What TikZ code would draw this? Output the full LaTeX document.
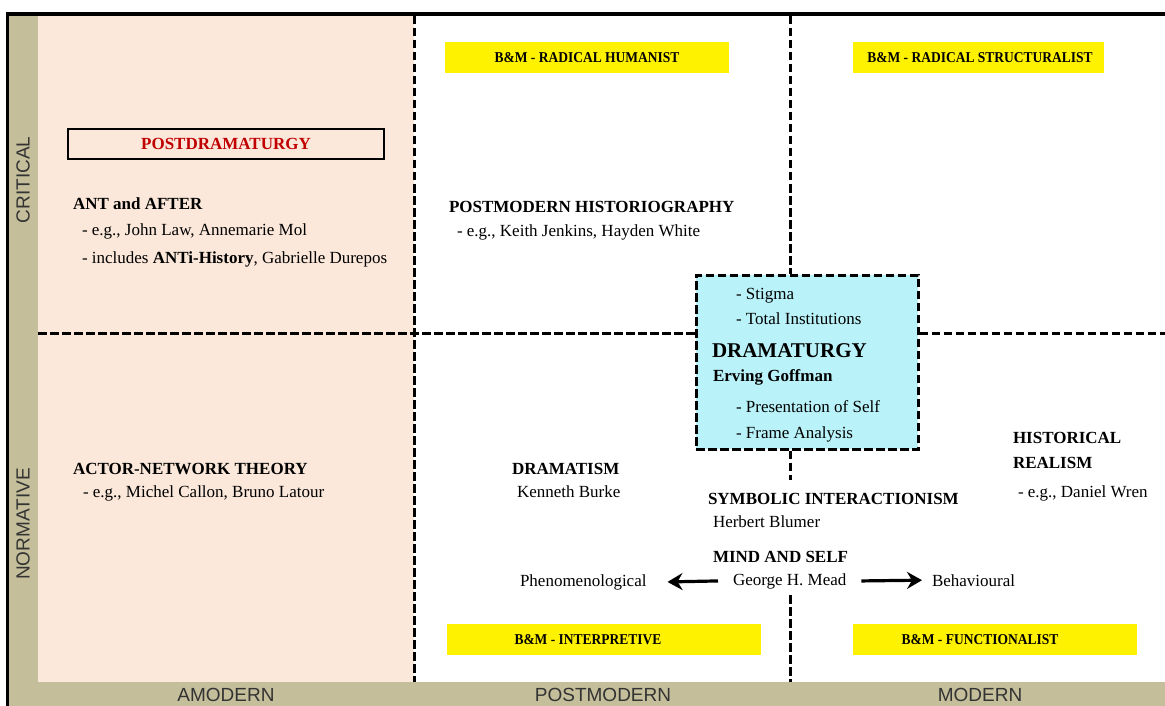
\documentclass[tikz,border=0pt]{standalone}
\usepackage{fontspec}
\setmainfont{Liberation Serif}
\newfontfamily\axisfont{Liberation Sans}
\newfontfamily\tagfont[FakeStretch=0.9]{Liberation Serif}
\usetikzlibrary{arrows.meta}
\definecolor{bandtan}{HTML}{C4BE9A}
\definecolor{peach}{HTML}{FBE8DA}
\definecolor{cyanbox}{HTML}{B9F3F9}
\definecolor{redtxt}{HTML}{C00000}
\begin{document}
\begin{tikzpicture}[x=1pt,y=-1pt,
  txt/.style={anchor=base west,inner sep=0pt,outer sep=0pt,font=\fontsize{17}{20}\selectfont},
  head/.style={txt,font=\fontsize{17}{20}\selectfont\bfseries},
  quad/.style={line width=3pt,dash pattern=on 8.5pt off 3.5pt},
  tagbox/.style={fill=yellow,draw=none},
  tagtxt/.style={inner sep=0pt,font=\tagfont\fontsize{15}{18}\selectfont\bfseries},
  axis/.style={inner sep=0pt,font=\axisfont\fontsize{19}{22}\selectfont,text=black!80},
  arr/.style={line width=3.2pt,-{Stealth[length=15pt,width=17pt,inset=5pt]}}]
\useasboundingbox (0,0) rectangle (1165,706);
% background areas
\fill[white] (0,0) rectangle (1165,706);
\fill[bandtan] (9,16) rectangle (38,706);
\fill[bandtan] (9,682) rectangle (1165,706);
\fill[peach] (38,16) rectangle (414,682);
% Goffman box
\node[draw,quad,fill=cyanbox,minimum width=222pt,minimum height=174pt,inner sep=0pt] (gbox) at (807,362) {};
% quadrant dividers
\coordinate (vAtop) at (414,16);
\coordinate (vAbot) at (414,682);
\coordinate (vBtop) at (790,16);
\coordinate (vBmid) at (790,480);
\coordinate (vBlow) at (790,595);
\coordinate (vBbot) at (790,682);
\coordinate (hL) at (38,333);
\coordinate (hR) at (1165,333);
\draw[quad] (vAtop) -- (vAbot);
\draw[quad] (vBtop) -- (vBtop |- gbox.north);
\draw[quad] (vBtop |- gbox.south) -- (vBmid);
\draw[quad] (vBlow) -- (vBbot);
\draw[quad] (hL) -- (hL -| gbox.west);
\draw[quad] (gbox.east |- hR) -- (hR);
% Burrell & Morgan tags
\fill[tagbox] (445,42) rectangle (729,73);
\fill[tagbox] (853,42) rectangle (1104,73);
\fill[tagbox] (447,624) rectangle (761,655);
\fill[tagbox] (853,624) rectangle (1137,655);
\node[tagtxt] (rh) at (587,58) {B\&M - RADICAL HUMANIST};
\node[tagtxt] (rs) at (980,58) {B\&M - RADICAL STRUCTURALIST};
\node[tagtxt] (ip) at (588,640) {B\&M - INTERPRETIVE};
\node[tagtxt] (fn) at (980,640) {B\&M - FUNCTIONALIST};
% postdramaturgy box
\node[draw,line width=2.5pt,fill=peach,minimum width=316pt,minimum height=30pt,inner sep=0pt,
  text=redtxt,font=\fontsize{17}{20}\selectfont\bfseries] (pd) at (226,144) {POSTDRAMATURGY};
% amodern critical
\node[head] (ant) at (73,209) {ANT and AFTER};
\node[txt] (ant1) at (82,235) {- e.g., John Law, Annemarie Mol};
\node[txt] (ant2) at (82,263) {- includes \textbf{ANTi-History}, Gabrielle Durepos};
% postmodern critical
\node[head] (ph) at (449,212) {POSTMODERN HISTORIOGRAPHY};
\node[txt] (ph1) at (457,236) {- e.g., Keith Jenkins, Hayden White};
% dramaturgy
\node[txt] (g1) at (736,299) {- Stigma};
\node[txt] (g2) at (736,324) {- Total Institutions};
\node[txt,font=\fontsize{21}{24}\selectfont\bfseries] (dr) at (712,357) {DRAMATURGY};
\node[head] (eg) at (713,381) {Erving Goffman};
\node[txt] (g3) at (736,412) {- Presentation of Self};
\node[txt] (g4) at (736,438) {- Frame Analysis};
% normative row
\node[head] (ant3) at (73,474) {ACTOR-NETWORK THEORY};
\node[txt] (ant4) at (83,497) {- e.g., Michel Callon, Bruno Latour};
\node[head] (dm) at (512,474) {DRAMATISM};
\node[txt] (kb) at (517,497) {Kenneth Burke};
\node[head] (hr1) at (1013,443) {HISTORICAL};
\node[head] (hr2) at (1013,468) {REALISM};
\node[txt] (dw) at (1018,497) {- e.g., Daniel Wren};
\node[head] (si) at (708,504) {SYMBOLIC INTERACTIONISM};
\node[txt] (hb) at (713,527) {Herbert Blumer};
\node[head] (ms) at (713,562) {MIND AND SELF};
\node[txt] (mead) at (733,585) {George H. Mead};
\node[txt] (phen) at (520,586) {Phenomenological};
\node[txt] (beh) at (932,586) {Behavioural};
\draw[arr] ([xshift=-15pt]mead.west) -- ([xshift=21pt]phen.east);
\draw[arr] ([xshift=15pt]mead.east) -- ([xshift=-10pt]beh.west);
% axis labels
\node[axis,rotate=90] (crit) at (23,180) {CRITICAL};
\node[axis,rotate=90] (norm) at (23,524) {NORMATIVE};
\node[axis] (amod) at (226,695) {AMODERN};
\node[axis] (pmod) at (603,695) {POSTMODERN};
\node[axis] (mod) at (980,695) {MODERN};
% outer frame
\draw[line width=3.5pt] (5.75,14.25) -- (1165,14.25);
\draw[line width=3.5pt] (7.5,12.5) -- (7.5,706);
\end{tikzpicture}
\end{document}
